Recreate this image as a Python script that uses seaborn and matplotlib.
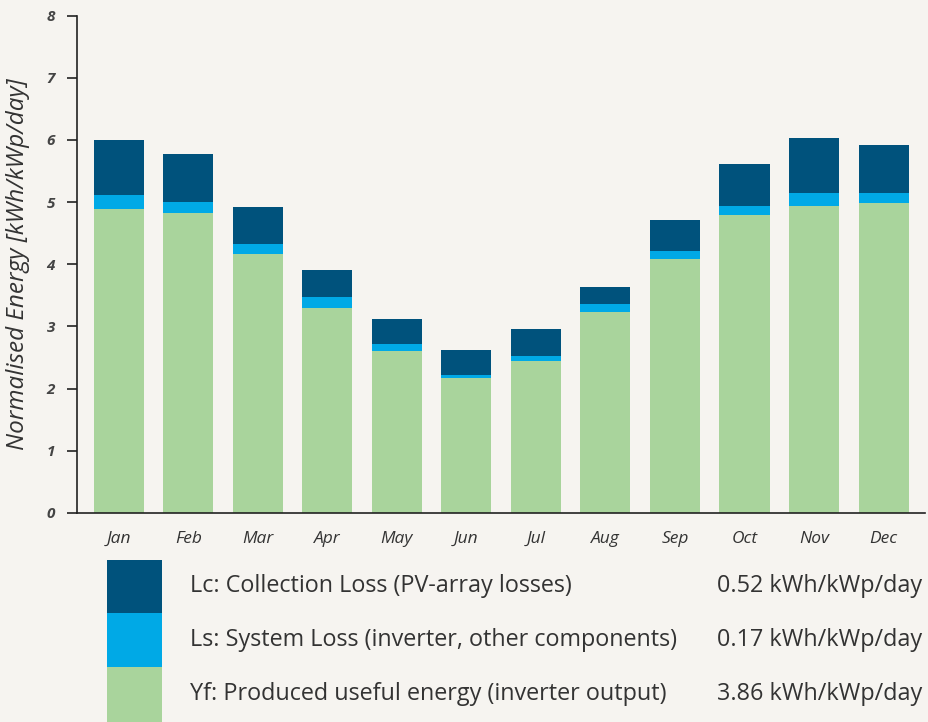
import matplotlib
matplotlib.use("Agg")
import matplotlib.pyplot as plt
import seaborn as sns
import pandas as pd
import numpy as np
from matplotlib.patches import Rectangle

months = ["Jan", "Feb", "Mar", "Apr", "May", "Jun", "Jul", "Aug", "Sep", "Oct", "Nov", "Dec"]
yf = [4.89, 4.82, 4.16, 3.29, 2.60, 2.17, 2.45, 3.23, 4.08, 4.79, 4.94, 4.99]
ls = [0.22, 0.18, 0.16, 0.19, 0.12, 0.05, 0.08, 0.13, 0.14, 0.15, 0.21, 0.16]
lc = [0.89, 0.78, 0.60, 0.43, 0.40, 0.40, 0.43, 0.28, 0.49, 0.68, 0.88, 0.77]

legend_labels = ["Lc: Collection Loss (PV-array losses)",
                 "Ls: System Loss (inverter, other components)",
                 "Yf: Produced useful energy (inverter output)"]
legend_values = ["0.52 kWh/kWp/day", "0.17 kWh/kWp/day", "3.86 kWh/kWp/day"]
yticks = [0, 1, 2, 3, 4, 5, 6, 7, 8]

c_lc = "#00527c"
c_ls = "#00a9e6"
c_yf = "#a9d49c"
bg = "#f6f4f0"
txt = "#333333"

sns.set_style("white")
plt.rcParams["font.family"] = ["Open Sans", "DejaVu Sans"]

df = pd.DataFrame({"month": months, "yf": yf, "ls": ls, "lc": lc})
df["mid"] = df["yf"] + df["ls"]
df["top"] = df["mid"] + df["lc"]

fig = plt.figure(figsize=(9.29, 7.22), dpi=100, facecolor=bg)
ax = fig.add_axes([0.0829, 0.2895, 0.9131, 0.689])
ax.set_facecolor(bg)

for col, c in [("top", c_lc), ("mid", c_ls), ("yf", c_yf)]:
    sns.barplot(data=df, x="month", y=col, color=c, width=0.72, saturation=1,
                linewidth=0, edgecolor="none", ax=ax)

ax.set_xlim(-0.6, 11.6)
ax.set_ylim(0, 8)
ax.set_yticks(yticks)
ax.set_yticklabels([str(t) for t in yticks], fontstyle="italic", fontweight="bold",
                   fontsize=11, color="#444444")
ax.set_xticks(range(len(months)))
ax.set_xticklabels(months, fontstyle="italic", fontsize=12.5, color=txt)
ax.tick_params(axis="y", length=7, width=1.2, color="#222222", pad=9, direction="out", left=True)
ax.tick_params(axis="x", length=0, pad=13)
ax.set_xlabel("")
ax.set_ylabel("Normalised Energy [kWh/kWp/day]", fontstyle="italic", fontsize=17.5,
              color=txt, labelpad=12)

for s in ["top", "right"]:
    ax.spines[s].set_visible(False)
for s in ["left", "bottom"]:
    ax.spines[s].set_color("#222222")
    ax.spines[s].set_linewidth(1.2)

# legend block
W, H = 929, 722
sw_x, sw_w = 107, 55
rows = [(560, 613, c_lc), (613, 667, c_ls), (667, 722, c_yf)]
for (y0, y1, c), lab, val in zip(rows, legend_labels, legend_values):
    fig.patches.append(Rectangle((sw_x / W, 1 - y1 / H), sw_w / W, (y1 - y0) / H,
                                 transform=fig.transFigure, facecolor=c, edgecolor="none"))
    yc = 1 - ((y0 + y1) / 2) / H
    fig.text(190 / W, yc, lab, ha="left", va="center", fontsize=16.8, color=txt)
    fig.text(922 / W, yc, val, ha="right", va="center", fontsize=16.8, color=txt)

fig.savefig("out.png", dpi=100, facecolor=bg)
